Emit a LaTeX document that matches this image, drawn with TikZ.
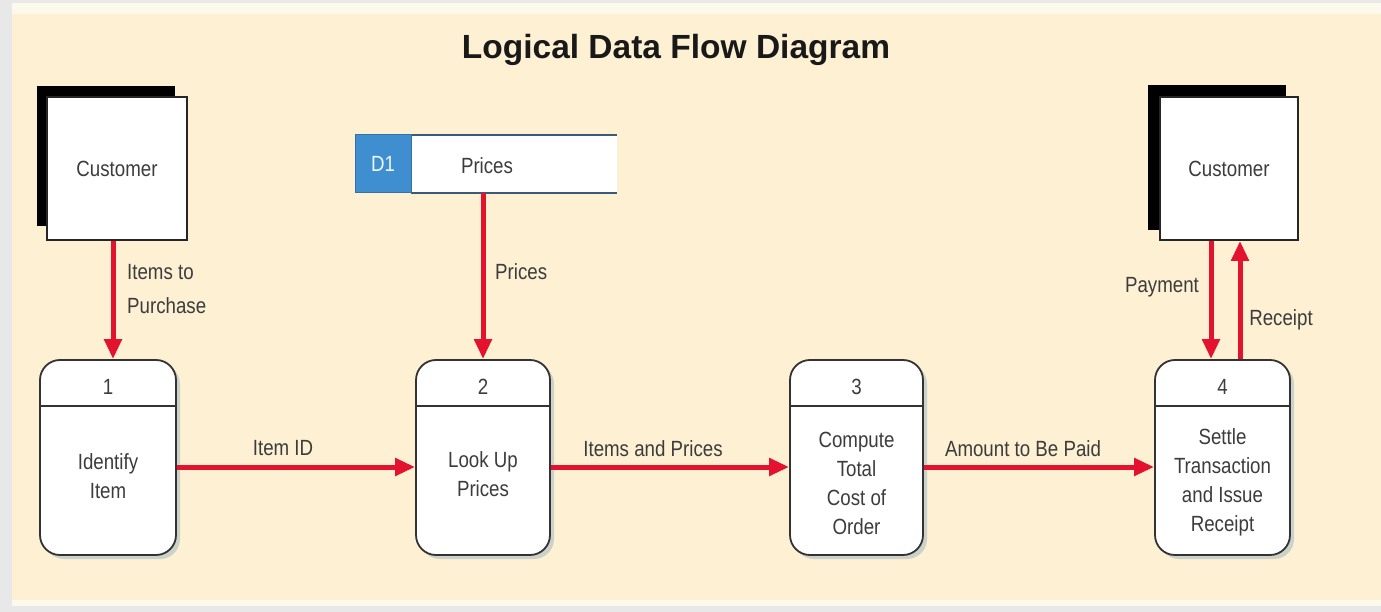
\documentclass[tikz,border=0pt]{standalone}
\usepackage{fontspec}
\setmainfont{Liberation Sans}[FakeStretch=0.85]
\newfontfamily\titlefont{Liberation Sans}
\usetikzlibrary{arrows.meta,shadows}
\definecolor{cream}{HTML}{FDF0D3}
\definecolor{frame}{HTML}{E8E8E8}
\definecolor{flowred}{HTML}{E3122E}
\definecolor{txt}{HTML}{3C3C3C}
\definecolor{storeblue}{HTML}{3F8ED0}
\definecolor{storeline}{HTML}{3A5A78}
\definecolor{shade}{HTML}{A9BFC4}
\tikzset{
  flow/.style={line width=5pt, draw=flowred, -{Triangle[length=20pt,width=17pt]}},
  process/.style={draw=black!80, line width=1.8pt, fill=white, rounded corners=20pt,
    minimum height=195pt, inner sep=0pt,
    drop shadow={shadow xshift=4pt, shadow yshift=-4pt, fill=shade, opacity=0.6}},
  entity/.style={draw=black!85, line width=1.8pt, fill=white, minimum width=140pt,
    minimum height=143pt, inner sep=0pt, font=\fontsize{22}{29}\selectfont, text=txt},
  ptext/.style={align=center, font=\fontsize{22}{29}\selectfont, text=txt},
  lbl/.style={font=\fontsize{22}{34}\selectfont, text=txt, inner sep=0pt}
}
\begin{document}
\begin{tikzpicture}[x=1pt,y=-1pt]
\useasboundingbox (0,0) rectangle (1381,612);
\fill[frame] (0,0) rectangle (1381,612);
\fill[white!60!cream] (12,3) rectangle (1381,606);
\fill[cream] (12,14) rectangle (1381,600);

% title
\node[font=\titlefont\bfseries\fontsize{33.5}{38}\selectfont, text=black!90] (title) at (676,50) {Logical Data Flow Diagram};

% external entity: customer 1
\fill[black] (37,86) rectangle (175,226);
\node[entity] (c1) at (117,168.5) {Customer};

% external entity: customer 2
\fill[black] (1148,85) rectangle (1286,230);
\node[entity, minimum width=138pt] (c2) at (1229,168.5) {Customer};

% data store D1
\node[fill=white, minimum width=206pt, minimum height=58pt, inner sep=0pt] (d1) at (514,164) {};
\draw[storeline, line width=2.2pt] (d1.north west) -- (d1.north east);
\draw[storeline, line width=2.2pt] (d1.south west) -- (d1.south east);
\node[fill=storeblue, draw=storeblue!80!black, line width=1pt, minimum width=56pt, minimum height=58pt,
  inner sep=0pt, text=white!92!storeblue, font=\fontsize{22}{29}\selectfont] (d1id) at (383,164) {D1};
\node[ptext] (d1name) at (487,166) {Prices};

% processes
\node[process, minimum width=136pt] (p1) at (108,457.5) {};
\node[process, minimum width=134pt] (p2) at (483,457.5) {};
\node[process, minimum width=133pt] (p3) at (856.5,457.5) {};
\node[process, minimum width=135pt] (p4) at (1222.5,457.5) {};
\foreach \p in {p1,p2,p3,p4}{
  \draw[black!80, line width=1.8pt] ([yshift=-47pt]\p.north west) -- ([yshift=-47pt]\p.north east);
}
\node[ptext] (n1) at (108,387) {1};
\node[ptext] (n2) at (483,387) {2};
\node[ptext] (n3) at (856.5,387) {3};
\node[ptext] (n4) at (1222.5,387) {4};
\node[ptext] (t1) at (108,476) {Identify\\Item};
\node[ptext] (t2) at (483,474) {Look Up\\Prices};
\node[ptext] (t3) at (856.5,483) {Compute\\Total\\Cost of\\Order};
\node[ptext] (t4) at (1222.5,482) {Settle\\Transaction\\and Issue\\Receipt};

% flows
\draw[flow] ([xshift=-4pt]c1.south) -- ([xshift=-4pt]c1.south |- p1.north);
\draw[flow] (d1.south -| p2.north) -- (p2.north);
\draw[flow] ([yshift=-9.5pt]p1.east) -- ([yshift=-9.5pt]p2.west);
\draw[flow] ([yshift=-9.5pt]p2.east) -- ([yshift=-9.5pt]p3.west);
\draw[flow] ([yshift=-9.5pt]p3.east) -- ([yshift=-9.5pt]p4.west);
\draw[flow] ([xshift=-11.5pt]p4.north |- c2.south) -- ([xshift=-11.5pt]p4.north);
\draw[flow] ([xshift=17.5pt]p4.north) -- ([xshift=17.5pt]p4.north |- c2.south);

% flow labels
\node[lbl, align=left, anchor=west] (l1) at (127,289) {Items to\\Purchase};
\node[lbl, anchor=west] (l2) at (495,272) {Prices};
\node[lbl] (l3) at (283,448) {Item ID};
\node[lbl] (l4) at (653,449) {Items and Prices};
\node[lbl] (l5) at (1023,449) {Amount to Be Paid};
\node[lbl] (l6) at (1162,287) {Payment};
\node[lbl] (l7) at (1281,320) {Receipt};
\end{tikzpicture}
\end{document}
